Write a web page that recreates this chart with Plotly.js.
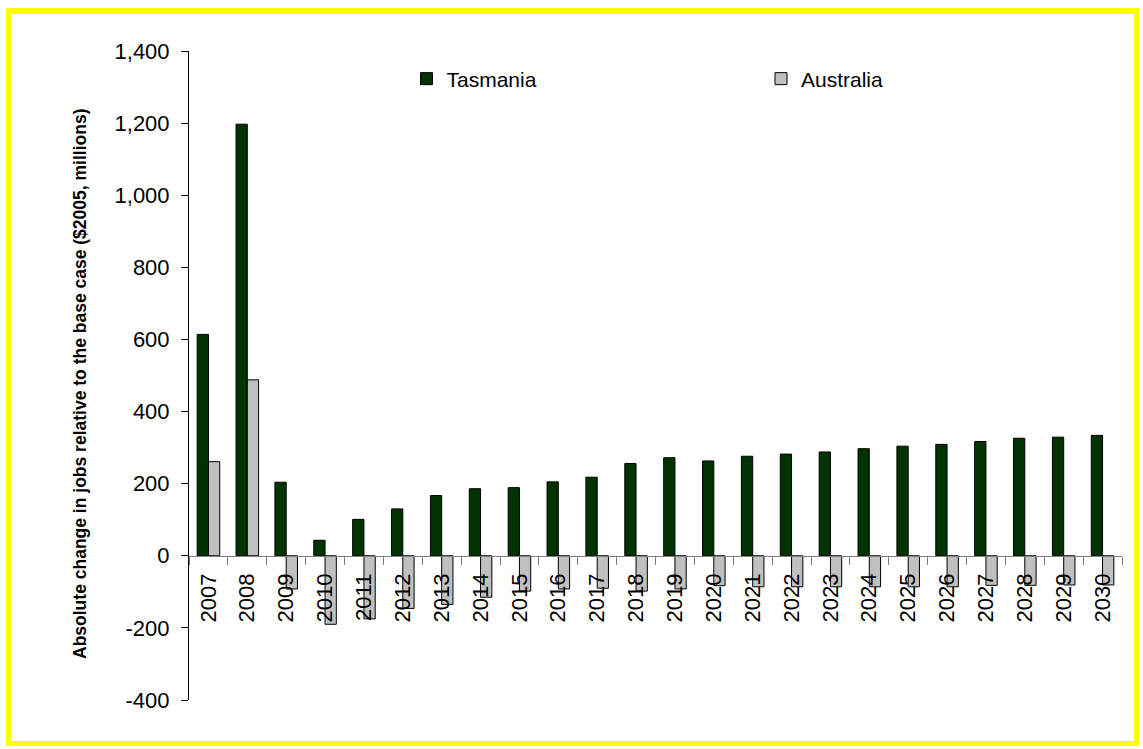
<!DOCTYPE html>
<html>
<head>
<meta charset="utf-8">
<script src="https://cdn.plot.ly/plotly-3.0.1.min.js"></script>
<style>
  html, body { margin: 0; padding: 0; background: #ffffff; }
  #wrap { position: relative; width: 1143px; height: 749px; overflow: hidden; }
  #chart { position: absolute; left: 0; top: 0; width: 1143px; height: 749px; }
  #frame { position: absolute; left: 6px; top: 8px; width: 1133px; height: 738px;
           box-sizing: border-box; border-style: solid; border-color: #ffff00;
           border-width: 6px 5px 5px 5px; pointer-events: none; }
</style>
</head>
<body>
<div id="wrap">
  <div id="chart"></div>
  <div id="frame"></div>
</div>
<script>
const years = ['2007','2008','2009','2010','2011','2012','2013','2014','2015','2016','2017','2018',
               '2019','2020','2021','2022','2023','2024','2025','2026','2027','2028','2029','2030'];
const tasmania = [614, 1197, 204, 43, 101, 130, 167, 186, 189, 205, 218, 256,
                  272, 263, 276, 282, 288, 297, 304, 309, 317, 326, 329, 334];
const australia = [261, 488, -92, -190, -175, -146, -135, -115, -98, -92, -90, -98,
                   -92, -83, -86, -86, -86, -86, -86, -86, -82, -82, -81, -81];
const yTickVals = [-400, -200, 0, 200, 400, 600, 800, 1000, 1200, 1400];
const yTickText = ['-400', '-200', '0', '200', '400', '600', '800', '1,000', '1,200', '1,400'];
const yTitle = 'Absolute change in jobs relative to the base case ($2005, millions)';

const FONT = 'Liberation Sans, Arial, sans-serif';

const traces = [
  {
    type: 'bar', name: 'Tasmania', x: years, y: tasmania,
    marker: { color: '#003300', line: { color: '#000000', width: 1 } },
    legend: 'legend'
  },
  {
    type: 'bar', name: 'Australia', x: years, y: australia,
    marker: { color: '#c0c0c0', line: { color: '#000000', width: 1 } },
    legend: 'legend2'
  }
];

const layout = {
  width: 1143, height: 749,
  margin: { l: 189, r: 21, t: 51, b: 49, pad: 0 },
  paper_bgcolor: '#ffffff', plot_bgcolor: '#ffffff',
  font: { family: FONT, color: '#000000', size: 22 },
  barmode: 'group', bargap: 0.42, bargroupgap: 0,
  xaxis: {
    type: 'category',
    anchor: 'free', position: 400 / 1800,
    showline: true, linecolor: '#808080', linewidth: 1,
    ticks: 'outside', ticklen: 8, tickcolor: '#808080', tickwidth: 1,
    tickson: 'boundaries',
    tickangle: -90,
    tickfont: { family: FONT, size: 22, color: '#000000' },
    showgrid: false, zeroline: false,
    ticklabelstandoff: 8
  },
  yaxis: {
    range: [-400, 1400],
    tickmode: 'array', tickvals: yTickVals, ticktext: yTickText,
    showline: true, linecolor: '#000000', linewidth: 1,
    ticks: 'outside', ticklen: 7, tickcolor: '#000000', tickwidth: 1,
    tickfont: { family: FONT, size: 22, color: '#000000' },
    showgrid: false, zeroline: false,
    ticklabelstandoff: 7
  },
  annotations: [
    {
      text: yTitle, textangle: -90,
      xref: 'paper', yref: 'paper',
      x: (80 - 189) / 933, y: 1 - (384 - 51) / 649,
      xanchor: 'center', yanchor: 'middle', showarrow: false,
      font: { family: FONT, size: 17.5, color: '#000000', weight: 'bold' }
    }
  ],
  showlegend: true,
  legend: {
    x: (406.5 - 189) / 933, xanchor: 'left',
    y: 1 - (79 - 51) / 649, yanchor: 'middle',
    orientation: 'h', bgcolor: 'rgba(0,0,0,0)', borderwidth: 0,
    font: { family: FONT, size: 21, color: '#000000' }
  },
  legend2: {
    x: (761 - 189) / 933, xanchor: 'left',
    y: 1 - (79 - 51) / 649, yanchor: 'middle',
    orientation: 'h', bgcolor: 'rgba(0,0,0,0)', borderwidth: 0,
    font: { family: FONT, size: 21, color: '#000000' }
  }
};

Plotly.newPlot('chart', traces, layout, { displayModeBar: false, staticPlot: true });
</script>
</body>
</html>
